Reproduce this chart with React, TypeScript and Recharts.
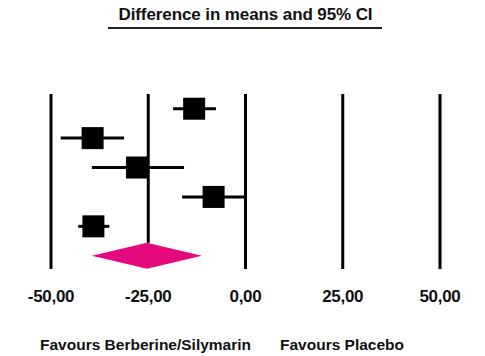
import React from "react";
import {
    ScatterChart, Scatter, XAxis, YAxis, ReferenceLine, ReferenceArea,
} from "recharts";

// study rows, top to bottom
const rows = [1, 2, 3, 4, 5];
const means = [-13.2, -39.3, -27.9, -8.2, -39.1];
const lower = [-18.6, -47.5, -39.5, -16.3, -43.0];
const upper = [-7.6, -31.2, -15.8, 0.0, -35.0];

// pooled estimate (diamond)
const pooledRow = 6;
const pooledMean = -25.3;
const pooledLower = -39.5;
const pooledUpper = -11.2;

const ticks = [-50, -25, 0, 25, 50];

const DIAMOND_HALF = 0.44;
const BOX = 22;

const points = rows.map((r, i) => ({ row: r, mean: means[i] }));

const fmt = (v: number) => v.toFixed(2).replace(".", ",");

const Tick = (props: any) => {
    const { x, y, payload } = props;
    return (
        <text x={x} y={y} dy={25} textAnchor="middle" fontSize={17}
            fontWeight="bold" letterSpacing={-0.3} fill="#111"
            fontFamily="Liberation Sans, Arial, sans-serif">
            {fmt(payload.value)}
        </text>
    );
};

const Box = (props: any) => {
    const { cx, cy } = props;
    return <rect x={cx - BOX / 2} y={cy - BOX / 2} width={BOX} height={BOX} fill="#000" />;
};

const Diamond = (props: any) => {
    const { x, y, width, height } = props;
    const mx = x + width / 2;
    const my = y + height / 2;
    return (
        <polygon
            points={`${x},${my} ${mx},${y} ${x + width},${my} ${mx},${y + height}`}
            fill="#e6097d"
        />
    );
};

export default function App() {
    const font = "Liberation Sans, Arial, sans-serif";
    return (
        <div style={{ position: "absolute", left: 0, top: 0, width: 485, height: 356, background: "#fff", fontFamily: font }}>
            <div style={{
                position: "absolute", left: 0, width: 485, top: 5, textAlign: "center",
                fontSize: 17, fontWeight: "bold", letterSpacing: -0.1, color: "#111",
            }}>
                <span style={{ marginLeft: 6 }}>Difference in means and 95% CI</span>
            </div>
            <div style={{ position: "absolute", left: 108, top: 27, width: 274, height: 1.5, background: "#222" }} />
            <ScatterChart width={485} height={356} margin={{ top: 94, right: 45, bottom: 57, left: 51 }}>
                <XAxis type="number" dataKey="mean" domain={[-50, 50]} ticks={ticks}
                    tickLine={false} axisLine={false} height={30} tick={<Tick />} interval={0} />
                <YAxis type="number" dataKey="row" domain={[0.5, 6.45]} reversed hide />
                {ticks.map((t) =>
                    t === -25 ? (
                        <ReferenceLine key={t} segment={[{ x: t, y: 0.5 }, { x: t, y: pooledRow - DIAMOND_HALF }]}
                            stroke="#000" strokeWidth={3} />
                    ) : (
                        <ReferenceLine key={t} x={t} stroke="#000" strokeWidth={3} />
                    )
                )}
                {rows.map((r, i) => (
                    <ReferenceLine key={"ci" + r} segment={[{ x: lower[i], y: r }, { x: upper[i], y: r }]}
                        stroke="#000" strokeWidth={3} />
                ))}
                <ReferenceArea x1={pooledLower} x2={pooledUpper}
                    y1={pooledRow - DIAMOND_HALF} y2={pooledRow + DIAMOND_HALF}
                    shape={<Diamond />} />
                <Scatter data={points} shape={<Box />} isAnimationActive={false} />
            </ScatterChart>
            <div style={{ position: "absolute", left: 40, top: 336, fontSize: 15.5, fontWeight: "bold", color: "#111", whiteSpace: "nowrap" }}>
                Favours Berberine/Silymarin
            </div>
            <div style={{ position: "absolute", left: 280, top: 336, fontSize: 15.5, fontWeight: "bold", color: "#111", whiteSpace: "nowrap" }}>
                Favours Placebo
            </div>
        </div>
    );
}
